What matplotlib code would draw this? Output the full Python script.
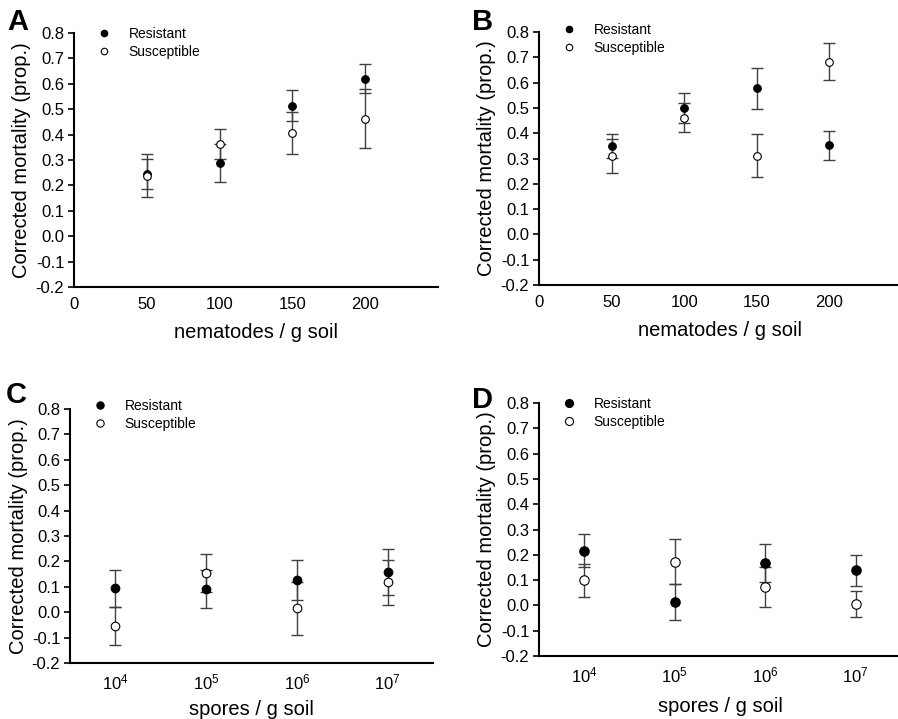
import numpy as np
import matplotlib
matplotlib.use("Agg")
import matplotlib.pyplot as plt

plt.rcParams['font.family'] = ['Liberation Sans', 'DejaVu Sans']
plt.rcParams['mathtext.default'] = 'regular'
plt.rcParams['axes.unicode_minus'] = False

## Data
nem_dose = [50, 100, 150, 200]
spore_labels = ['$10^{4}$', '$10^{5}$', '$10^{6}$', '$10^{7}$']

# panel A
a_res = [0.246, 0.287, 0.514, 0.621]
a_res_err = [0.059, 0.074, 0.062, 0.057]
a_sus = [0.238, 0.362, 0.408, 0.462]
a_sus_err = [0.085, 0.060, 0.083, 0.116]

# panel B
b_res = [0.348, 0.498, 0.578, 0.353]
b_res_err = [0.047, 0.059, 0.081, 0.057]
b_sus = [0.309, 0.462, 0.311, 0.683]
b_sus_err = [0.068, 0.056, 0.084, 0.072]

# panel C
c_res = [0.095, 0.091, 0.126, 0.157]
c_res_err = [0.073, 0.074, 0.079, 0.090]
c_sus = [-0.054, 0.154, 0.015, 0.117]
c_sus_err = [0.074, 0.075, 0.104, 0.087]

# panel D
d_res = [0.216, 0.014, 0.167, 0.139]
d_res_err = [0.065, 0.070, 0.076, 0.061]
d_sus = [0.099, 0.173, 0.072, 0.005]
d_sus_err = [0.064, 0.089, 0.079, 0.052]

yticks = [-0.2, -0.1, 0.0, 0.1, 0.2, 0.3, 0.4, 0.5, 0.6, 0.7, 0.8]
ERR_COL = '#404040'


##
# draw one panel
def draw_panel(ax, x, res, res_err, sus, sus_err, msize, xlabel, xpad, leg_y):
    ax.errorbar(x, res, yerr=res_err, fmt='none', ecolor=ERR_COL,
                elinewidth=1.0, capsize=4.5, capthick=1.0, zorder=2)
    ax.errorbar(x, sus, yerr=sus_err, fmt='none', ecolor=ERR_COL,
                elinewidth=1.0, capsize=4.5, capthick=1.0, zorder=2)
    ax.plot(x, res, 'o', color='black', markersize=msize, markeredgewidth=0.8,
            label='Resistant', zorder=3)
    ax.plot(x, sus, 'o', markerfacecolor='white', markeredgecolor='black',
            markersize=msize, markeredgewidth=0.8, label='Susceptible', zorder=3)

    ax.set_ylim(-0.2, 0.8)
    ax.set_yticks(yticks)
    ax.set_yticklabels(['%.1f' % v for v in yticks])
    ax.spines['top'].set_visible(False)
    ax.spines['right'].set_visible(False)
    ax.spines['left'].set_linewidth(1.5)
    ax.spines['bottom'].set_linewidth(1.5)
    ax.tick_params(axis='y', direction='out', length=4, width=1.2,
                   labelsize=12, pad=3)
    ax.tick_params(axis='x', length=0, labelsize=12, pad=7)
    ax.set_ylabel('Corrected mortality (prop.)', fontsize=14.5, labelpad=3)
    ax.set_xlabel(xlabel, fontsize=14.5, labelpad=xpad)

    ax.legend(loc='upper left', bbox_to_anchor=(0.03, leg_y), frameon=False,
              fontsize=10, handletextpad=0.75, labelspacing=0.25,
              markerscale=0.85, borderaxespad=0)


fig = plt.figure(figsize=(8.98, 7.19), dpi=100)

axA = fig.add_axes([0.0824, 0.601, 0.4054, 0.353])
axB = fig.add_axes([0.6002, 0.6036, 0.4042, 0.3519])
axC = fig.add_axes([0.0780, 0.0779, 0.4042, 0.3533])
axD = fig.add_axes([0.6002, 0.0876, 0.4031, 0.3519])

draw_panel(axA, nem_dose, a_res, a_res_err, a_sus, a_sus_err, 5.5,
           'nematodes / g soil', 8, 1.045)
draw_panel(axB, nem_dose, b_res, b_res_err, b_sus, b_sus_err, 5.5,
           'nematodes / g soil', 8, 1.057)

spore_x = np.arange(1, len(spore_labels) + 1)
draw_panel(axC, spore_x, c_res, c_res_err, c_sus, c_sus_err, 6.2,
           'spores / g soil', 5, 1.06)
draw_panel(axD, spore_x, d_res, d_res_err, d_sus, d_sus_err, 6.8,
           'spores / g soil', 8, 1.045)

for ax in (axA, axB):
    ax.set_xlim(0, 250)
    ax.set_xticks([0, 50, 100, 150, 200])
    ax.set_xticklabels(['0', '50', '100', '150', '200'])

for ax in (axC, axD):
    ax.set_xlim(0.5, 4.5)
    ax.set_xticks(spore_x)
    ax.set_xticklabels(spore_labels)

# panel letters
for letter, lx, ly in [('A', 7, 8), ('B', 472, 8), ('C', 6, 381), ('D', 472, 386)]:
    fig.text(lx / 898, 1 - ly / 719, letter, fontsize=21, fontweight='bold',
             ha='left', va='top')

fig.savefig('out.png', dpi=100)
